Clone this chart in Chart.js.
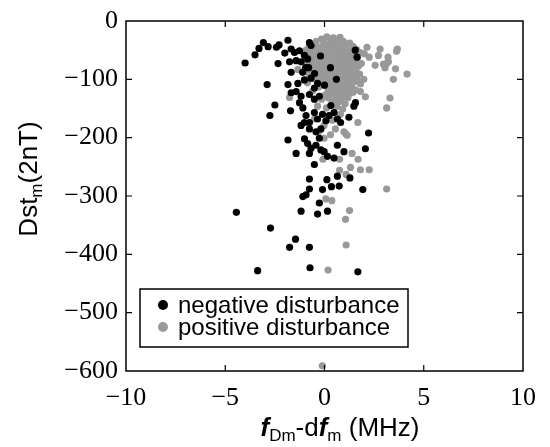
<!DOCTYPE html>
<html>
<head>
<meta charset="utf-8">
<script src="https://cdn.jsdelivr.net/npm/chart.js@4/dist/chart.umd.min.js"></script>
<style>
html,body{margin:0;padding:0;background:#fff;}
#wrap{width:550px;height:447px;}
</style>
</head>
<body>
<div id="wrap"><canvas id="c" width="550" height="447"></canvas></div>
<script>
// ---- data ----
const xTickValues = [-10, -5, 0, 5, 10];
const yTickValues = [0, -100, -200, -300, -400, -500, -600];

const seriesLabels = ['negative disturbance', 'positive disturbance'];

// negative disturbance: f_Dm - df_m (MHz)
const negFreq = [-4.0,-3.5,-3.3,-3.08,-2.84,-2.42,-2.29,-1.84,-2.0,-1.68,-1.51,-1.26,-2.34,-1.76,-1.43,-1.18,-1.01,-0.85,-0.76,-0.68,
 -1.68,-2.89,-1.84,-1.34,-1.01,-1.68,-1.43,-1.18,-0.76,-0.51,-0.26,-2.5,-2.75,-1.71,-1.26,-1.09,-0.93,-0.76,-1.18,-1.01,
 -0.51,-0.35,-0.1,0.07,0.23,0.48,0.65,-0.76,-0.43,-0.18,-1.84,-1.43,-1.01,-0.85,-0.68,-0.43,-0.18,-0.02,-0.76,-0.51,
 0.15,0.48,0.98,2.22,2.06,1.48,1.56,1.23,1.64,1.55,-0.76,0.12,0.65,1.28,-0.76,-0.1,0.35,0.74,1.93,-1.09,
 -0.93,-0.26,-1.18,-0.35,0.15,-4.44,-2.72,-1.46,-1.76,-0.76,-3.37,-0.73,1.68,0.65,-0.26,0.81,-0.68,-0.35,-0.51,-0.2,
 0.3,0.6,0.0,-0.5,-0.8,0.32,-1.1,-0.95];
// negative disturbance: Dst_m (2nT)
const negDst = [-72,-58,-47,-37,-44,-45,-41,-33,-55,-48,-54,-51,-73,-70,-68,-70,-59,-65,-37,-42,
 -88,-109,-109,-107,-101,-123,-121,-129,-126,-134,-129,-144,-162,-154,-140,-149,-162,-174,-179,-174,
 -157,-168,-160,-171,-162,-157,-168,-185,-190,-185,-204,-227,-202,-210,-218,-213,-221,-224,-227,-246,
 -232,-235,-224,-192,-219,-146,-140,-165,-62,-50,-271,-272,-266,-269,-288,-289,-284,-283,-289,-301,
 -298,-312,-326,-331,-326,-328,-355,-374,-388,-388,-428,-423,-430,-213,-201,-174,-98,-107,-115,-60,
 -80,-100,-110,-90,-80,-145,-88,-80];

// positive disturbance: f_Dm - df_m (MHz)
const posFreq = [0.12,0.45,0.78,-0.15,
 -0.42,-0.05,0.31,0.62,0.95,1.27,
 -0.78,-0.47,-0.14,0.18,0.52,0.83,1.12,1.45,
 -0.93,-0.61,-0.28,0.04,0.36,0.67,0.99,1.31,1.62,
 -1.02,-0.72,-0.4,-0.09,0.22,0.55,0.86,1.17,1.48,1.79,
 -0.88,-0.57,-0.24,0.08,0.39,0.71,1.03,1.34,1.66,
 -0.97,-0.66,-0.33,-0.02,0.3,0.61,0.93,1.24,1.55,1.86,
 -0.84,-0.52,-0.2,0.13,0.45,0.76,1.08,1.39,1.71,
 -0.93,-0.63,-0.31,0.01,0.33,0.64,0.96,1.27,1.58,
 -0.76,-0.44,-0.12,0.2,0.52,0.84,1.15,1.46,1.77,
 -0.55,-0.25,0.07,0.39,0.71,1.02,1.33,1.64,
 -0.86,-0.12,0.24,0.56,0.87,1.19,1.5,
 -0.3,0.05,0.41,0.73,1.04,1.36,
 -0.6,0.18,0.5,0.82,1.13,1.44,
 0.02,0.35,0.67,0.98,1.3,
 -0.15,0.2,0.54,0.86,1.18,
 0.38,0.72,1.04,-0.35,
 0.1,0.62,0.92,
 2.80,3.67,3.20,3.22,2.55,3.05,3.13,3.58,4.16,2.14,2.00,2.25,2.72,2.97,3.63,1.98,3.47,1.81,3.30,3.13,
 2.06,1.81,1.56,1.68,1.06,1.39,1.69,0.76,-0.08,0.76,1.31,1.81,2.25,1.09,3.13,0.07,0.37,1.26,1.06,1.09,
 0.18,-0.11,-1.76,-1.34,-0.51,-0.02,0.30,0.55,-0.02,0.98,1.14,0.40,0.80,-0.30];
// positive disturbance: Dst_m (2nT)
const posDst = [-27,-29,-28,-31,
 -35,-34,-36,-33,-35,-38,
 -43,-41,-44,-42,-40,-43,-41,-44,
 -50,-48,-51,-49,-47,-50,-48,-51,-49,
 -57,-55,-58,-56,-54,-57,-55,-58,-56,-54,
 -64,-62,-65,-63,-61,-64,-62,-65,-63,
 -71,-69,-72,-70,-68,-71,-69,-72,-70,-73,
 -78,-76,-79,-77,-75,-78,-76,-79,-77,
 -85,-83,-86,-84,-82,-85,-83,-86,-84,
 -92,-90,-93,-91,-89,-92,-90,-93,-91,
 -99,-97,-100,-98,-96,-99,-97,-100,
 -106,-104,-107,-105,-103,-106,-104,
 -113,-111,-114,-112,-110,-113,
 -120,-118,-121,-119,-117,-122,
 -127,-125,-128,-126,-124,
 -134,-132,-135,-133,-131,
 -141,-139,-142,-146,
 -149,-147,-151,
 -48,-48,-62,-70,-76,-80,-73,-82,-91,-45,-56,-62,-59,-74,-52,-100,-100,-108,-132,-149,
 -130,-121,-118,-174,-193,-227,-237,-237,-237,-256,-251,-255,-255,-263,-288,-305,-308,-325,-340,-384,
 -427,-591,-131,-83,-168,-201,-195,-185,-179,-190,-196,-170,-160,-190];

const negColor = '#000000';
const posColor = '#999999';

function pairs(xs, ys){ return xs.map((x,i)=>({x:x, y:ys[i]})); }

function fmt(v){ return v < 0 ? '\u2212' + Math.abs(v) : String(v); }

const framePlugin = {
  id: 'frame',
  afterDraw(chart){
    const ctx = chart.ctx;
    const a = chart.chartArea;
    const xs = chart.scales.x, ys = chart.scales.y;
    ctx.save();
    // frame
    ctx.strokeStyle = '#000';
    ctx.lineWidth = 1.5;
    ctx.strokeRect(a.left, a.top, a.right - a.left, a.bottom - a.top);
    // inward ticks
    ctx.lineWidth = 1.2;
    const tl = 6;
    ctx.beginPath();
    xs.ticks.forEach(t => {
      const p = xs.getPixelForValue(t.value);
      if (p <= a.left + 1 || p >= a.right - 1) return;
      ctx.moveTo(p, a.bottom); ctx.lineTo(p, a.bottom - tl);
      ctx.moveTo(p, a.top); ctx.lineTo(p, a.top + tl);
    });
    ys.ticks.forEach(t => {
      const p = ys.getPixelForValue(t.value);
      if (p <= a.top + 1 || p >= a.bottom - 1) return;
      ctx.moveTo(a.left, p); ctx.lineTo(a.left + tl, p);
      ctx.moveTo(a.right, p); ctx.lineTo(a.right - tl, p);
    });
    ctx.stroke();

    // legend box
    const lx = 140, ly = 289, lw = 268, lh = 58;
    ctx.fillStyle = '#fff';
    ctx.fillRect(lx, ly, lw, lh);
    ctx.lineWidth = 1.5;
    ctx.strokeRect(lx, ly, lw, lh);
    ctx.font = '24px "Liberation Sans", Arial, sans-serif';
    ctx.textBaseline = 'middle';
    ctx.textAlign = 'left';
    chart.data.datasets.forEach((ds, i) => {
      const cy = 305 + i * 22;
      ctx.fillStyle = ds.backgroundColor;
      ctx.beginPath(); ctx.arc(163, cy, 5, 0, Math.PI * 2); ctx.fill();
      ctx.fillStyle = '#000';
      ctx.fillText(ds.label, 178, cy + 1);
    });

    // x title: f_Dm - d f_m (MHz)
    const big = 26, small = 17;
    const partsX = [
      {t:'f', f:'italic bold ' + big + 'px "Liberation Sans", Arial, sans-serif', dy:0},
      {t:'Dm', f: small + 'px "Liberation Sans", Arial, sans-serif', dy:5},
      {t:'-d', f: big + 'px "Liberation Sans", Arial, sans-serif', dy:0},
      {t:'f', f:'italic bold ' + big + 'px "Liberation Sans", Arial, sans-serif', dy:0},
      {t:'m', f: small + 'px "Liberation Sans", Arial, sans-serif', dy:5},
      {t:' (MHz)', f: big + 'px "Liberation Sans", Arial, sans-serif', dy:0}
    ];
    ctx.fillStyle = '#000';
    ctx.textBaseline = 'alphabetic';
    let total = 0;
    partsX.forEach(p => { ctx.font = p.f; p.w = ctx.measureText(p.t).width; total += p.w; });
    let x0 = 340 - total / 2;
    partsX.forEach(p => { ctx.font = p.f; ctx.fillText(p.t, x0, 436 + p.dy); x0 += p.w; });

    // y title: Dst_m(2nT), rotated
    const partsY = [
      {t:'Dst', f: big + 'px "Liberation Sans", Arial, sans-serif', dy:0},
      {t:'m', f: small + 'px "Liberation Sans", Arial, sans-serif', dy:5},
      {t:'(2nT)', f: big + 'px "Liberation Sans", Arial, sans-serif', dy:0}
    ];
    total = 0;
    partsY.forEach(p => { ctx.font = p.f; p.w = ctx.measureText(p.t).width; total += p.w; });
    ctx.translate(37, 179);
    ctx.rotate(-Math.PI / 2);
    let y0 = -total / 2;
    partsY.forEach(p => { ctx.font = p.f; ctx.fillText(p.t, y0, p.dy); y0 += p.w; });
    ctx.restore();
  }
};

new Chart(document.getElementById('c'), {
  type: 'scatter',
  data: {
    datasets: [
      {label: seriesLabels[0], data: pairs(negFreq, negDst), backgroundColor: negColor, borderWidth: 0, pointRadius: 3.6},
      {label: seriesLabels[1], data: pairs(posFreq, posDst), backgroundColor: posColor, borderWidth: 0, pointRadius: 3.6}
    ]
  },
  options: {
    responsive: false,
    devicePixelRatio: 1,
    animation: false,
    layout: {padding: {left: 0, right: 22, top: 13, bottom: 0}},
    plugins: {legend: {display: false}, tooltip: {enabled: false}},
    scales: {
      x: {
        type: 'linear', min: -10, max: 10,
        afterBuildTicks: s => { s.ticks = xTickValues.map(v => ({value: v})); },
        afterFit: s => { s.height = 76; },
        grid: {display: false, drawTicks: false},
        border: {display: false},
        ticks: {color: '#000', padding: 14, maxRotation: 0, autoSkip: false,
          font: {family: '"Liberation Serif", "Times New Roman", serif', size: 26, lineHeight: 1},
          callback: v => fmt(v)}
      },
      y: {
        type: 'linear', min: -600, max: 0,
        afterBuildTicks: s => { s.ticks = yTickValues.map(v => ({value: v})); },
        afterFit: s => { s.width = 126; },
        grid: {display: false, drawTicks: false},
        border: {display: false},
        ticks: {color: '#000', padding: 8, autoSkip: false,
          font: {family: '"Liberation Serif", "Times New Roman", serif', size: 26, lineHeight: 1},
          callback: v => fmt(v)}
      }
    }
  },
  plugins: [framePlugin]
});
</script>
</body>
</html>
